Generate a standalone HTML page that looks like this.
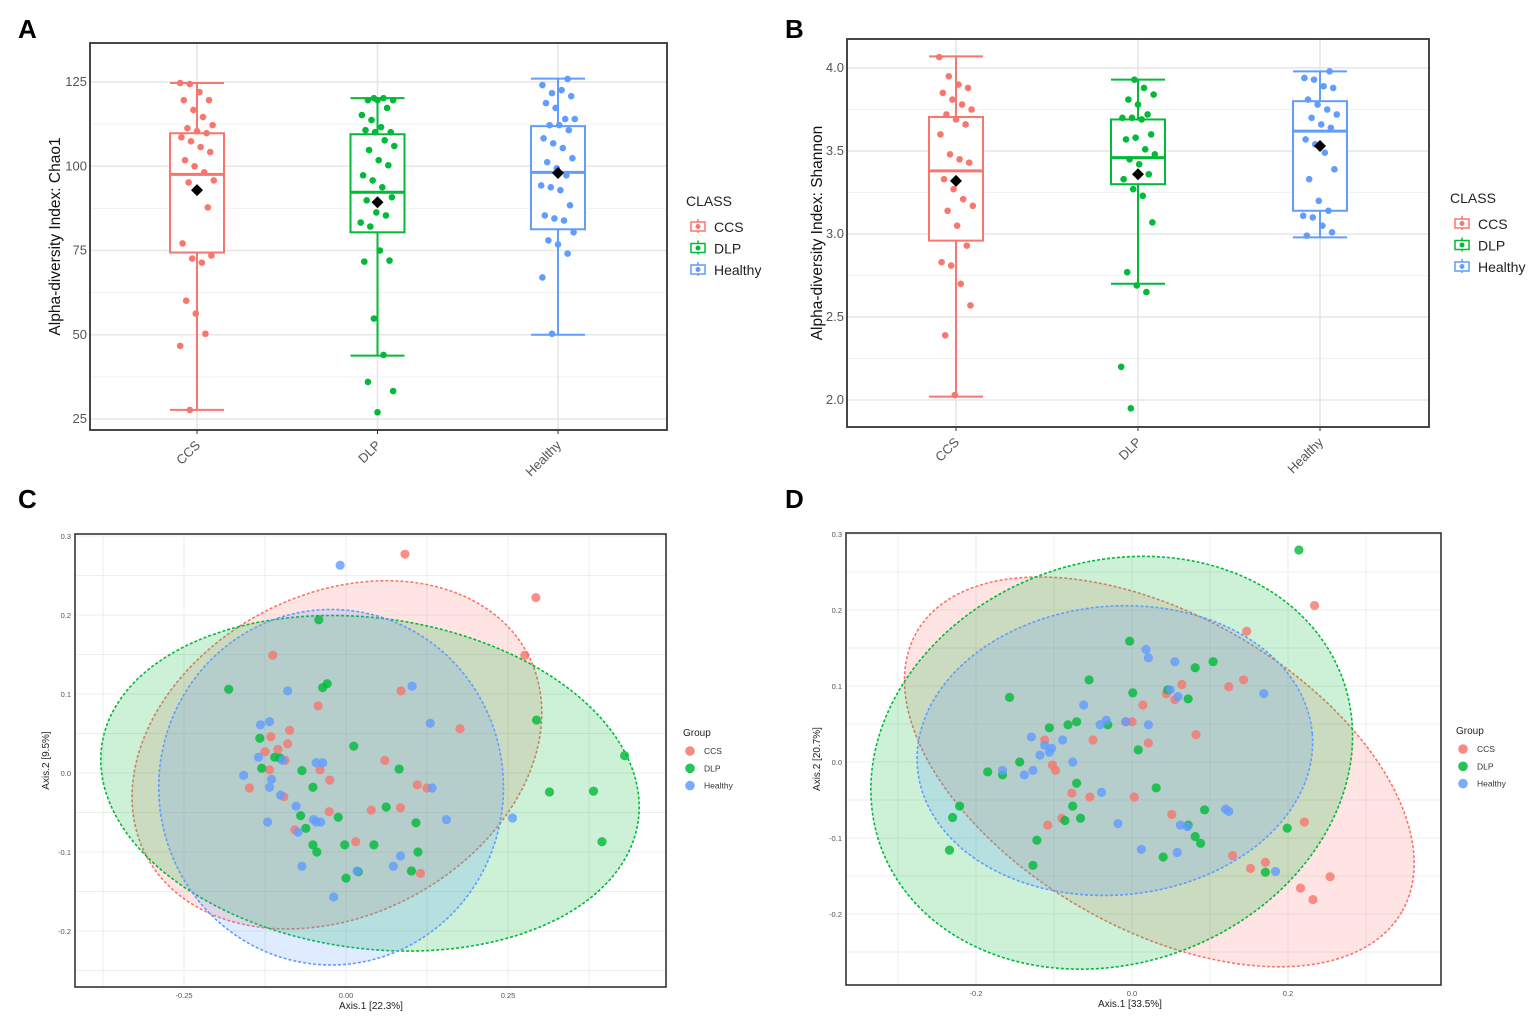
<!DOCTYPE html>
<html><head><meta charset="utf-8">
<style>
html,body{margin:0;padding:0;background:#fff;}
svg{display:block;font-family:"Liberation Sans",sans-serif;}
</style></head>
<body>
<svg id="fig" width="1535" height="1023" viewBox="0 0 1535 1023" xmlns="http://www.w3.org/2000/svg">
<rect width="1535" height="1023" fill="#fff"/>
<text x="18" y="38" font-size="26" font-weight="bold">A</text>
<text x="785" y="38" font-size="26" font-weight="bold">B</text>
<text x="18" y="508" font-size="26" font-weight="bold">C</text>
<text x="785" y="508" font-size="26" font-weight="bold">D</text>
</svg>
<script>
// ===== Panel A data (Chao1) =====
const groupsA = ["CCS","DLP","Healthy"];
const yTicksA = [25,50,75,100,125];
const boxStatsA = [ // [lowWhisker, q1, median, q3, highWhisker, mean]
  [27.7,74.4,97.6,109.8,124.7,92.9],
  [43.8,80.4,92.3,109.5,120.2,89.3],
  [50.0,81.3,98.2,111.9,126.0,98.0]
];
const ptsA_CCS = [124.7,124.4,122,119.6,119.6,116.7,114.6,112.2,111.3,110.4,109.8,108.6,107.4,105.7,104.2,101.8,100,98.2,95.8,95.2,92.9,87.8,77.1,72.6,71.4,73.5,60.1,56.3,50.3,46.7,27.7];
const ptsA_DLP = [120.2,120.2,119.6,119.6,119.6,117.3,115.2,113.7,111.6,110.1,110.7,110.1,107.7,106,104.8,101.8,100.3,97.3,95.8,93.75,90.8,89.9,86.3,85.4,83.3,82.1,75,72,71.7,54.8,44,33.3,36,27];
const ptsA_H = [125.9,124.1,121.7,122.6,120.8,118.75,117.3,114,114,112.2,112.2,110.7,108.3,106.8,105.4,102.4,101.2,99.4,97.3,94.3,93.75,92.9,88.4,85.4,84.5,83.9,80.4,78,76.8,74.1,67,50.3];

// ===== Panel B data (Shannon) =====
const groupsB = ["CCS","DLP","Healthy"];
const yTicksB = [2.0,2.5,3.0,3.5,4.0];
const boxStatsB = [
  [2.02,2.96,3.38,3.705,4.07,3.32],
  [2.70,3.30,3.46,3.69,3.93,3.36],
  [2.98,3.14,3.62,3.80,3.98,3.53]
];
const ptsB_CCS = [4.066,3.95,3.90,3.88,3.85,3.81,3.78,3.75,3.72,3.69,3.66,3.60,3.48,3.45,3.43,3.33,3.27,3.21,3.17,3.14,3.05,2.93,2.83,2.81,2.70,2.57,2.39,2.03];
const ptsB_DLP = [3.93,3.88,3.84,3.81,3.78,3.72,3.70,3.70,3.69,3.60,3.57,3.58,3.51,3.48,3.45,3.42,3.36,3.33,3.27,3.23,3.07,2.77,2.69,2.65,2.20,1.95];
const ptsB_H = [3.98,3.94,3.93,3.89,3.88,3.81,3.78,3.75,3.72,3.70,3.66,3.64,3.57,3.54,3.49,3.39,3.33,3.20,3.14,3.11,3.10,3.05,3.01,2.99];

// ===== Panel C data (PCoA) =====
const xTicksC = [-0.25,0,0.25];
const yTicksC = [-0.2,-0.1,0,0.1,0.2,0.3];
const cRedX = [0.091,0.293,0.276,-0.113,0.085,-0.043,0.176,-0.087,-0.116,-0.09,-0.125,-0.105,-0.040,0.060,-0.025,0.110,0.125,-0.149,-0.096,0.039,0.084,-0.026,-0.079,0.015,0.115,-0.094,-0.118];
const cRedY = [0.277,0.222,0.149,0.149,0.104,0.085,0.056,0.054,0.046,0.037,0.027,0.030,0.004,0.016,-0.009,-0.015,-0.019,-0.019,-0.030,-0.047,-0.044,-0.049,-0.072,-0.087,-0.127,0.016,0.004];
const cGrnX = [-0.042,-0.181,-0.029,-0.036,0.294,0.012,-0.133,-0.110,-0.068,0.082,0.430,0.314,0.382,-0.130,-0.051,-0.070,-0.062,-0.012,0.062,0.108,0.395,-0.051,-0.045,-0.002,0.043,0.111,0.019,0.000,0.101,-0.102];
const cGrnY = [0.194,0.106,0.113,0.108,0.067,0.034,0.044,0.020,0.003,0.005,0.022,-0.024,-0.023,0.006,-0.018,-0.054,-0.070,-0.056,-0.043,-0.063,-0.087,-0.091,-0.100,-0.091,-0.091,-0.100,-0.125,-0.133,-0.124,0.019];
const cBluX = [-0.009,-0.090,0.102,-0.118,-0.132,0.130,-0.135,-0.098,-0.046,-0.036,-0.158,-0.118,-0.101,-0.121,-0.077,-0.050,-0.039,-0.074,-0.046,0.155,0.133,0.257,0.084,0.073,-0.068,0.017,-0.019,-0.115];
const cBluY = [0.263,0.104,0.110,0.065,0.061,0.063,0.020,0.016,0.013,0.013,-0.003,-0.018,-0.028,-0.062,-0.042,-0.059,-0.062,-0.075,-0.062,-0.059,-0.019,-0.057,-0.105,-0.118,-0.118,-0.124,-0.157,-0.008];
// ellipse: [cx, cy, semi-axis x, semi-axis y, rotation deg]
const cEllipses = [[-0.014,0.023,0.333,0.203,-28],[0.037,-0.013,0.418,0.209,8],[-0.023,-0.018,0.266,0.225,0]];

// ===== Panel D data (PCoA) =====
const xTicksD = [-0.2,0,0.2];
const yTicksD = [-0.2,-0.1,0,0.1,0.2,0.3];
const dRedX = [0.234,0.147,0.143,0.124,0.064,0.044,0.055,0.014,0.082,-0.008,0.000,-0.050,-0.112,-0.102,-0.098,-0.077,-0.054,0.003,-0.090,-0.108,0.051,0.129,0.171,0.152,0.221,0.216,0.232,0.254,0.021];
const dRedY = [0.206,0.172,0.108,0.099,0.102,0.090,0.082,0.075,0.036,0.053,0.053,0.029,0.029,-0.004,-0.011,-0.041,-0.046,-0.046,-0.074,-0.083,-0.069,-0.123,-0.132,-0.140,-0.079,-0.166,-0.181,-0.151,0.025];
const dGrnX = [0.214,-0.003,0.104,0.081,-0.055,0.072,0.001,-0.157,-0.071,-0.082,-0.031,0.008,-0.144,-0.185,-0.166,-0.071,0.031,-0.076,-0.066,0.093,-0.086,-0.221,-0.230,0.072,0.081,0.088,0.199,-0.122,0.040,-0.127,-0.234,0.171,-0.106,0.046];
const dGrnY = [0.279,0.159,0.132,0.124,0.108,0.083,0.091,0.085,0.053,0.049,0.049,0.016,0.000,-0.013,-0.017,-0.028,-0.034,-0.058,-0.074,-0.063,-0.077,-0.058,-0.073,-0.083,-0.098,-0.107,-0.087,-0.103,-0.125,-0.136,-0.116,-0.145,0.045,0.095];
const dBluX = [0.018,0.021,0.055,0.049,0.059,0.169,-0.062,-0.033,-0.041,0.021,-0.008,-0.129,-0.112,-0.103,-0.089,-0.118,-0.106,-0.076,-0.127,-0.166,-0.138,-0.039,-0.018,0.062,0.071,0.120,0.124,0.012,0.058,0.184];
const dBluY = [0.148,0.137,0.132,0.095,0.086,0.090,0.075,0.055,0.049,0.049,0.053,0.033,0.022,0.018,0.029,0.009,0.013,0.000,-0.011,-0.011,-0.017,-0.040,-0.081,-0.083,-0.085,-0.062,-0.065,-0.115,-0.119,-0.144];
const dEllipses = [[0.035,-0.013,0.359,0.206,30],[-0.026,-0.001,0.315,0.264,-20],[-0.022,0.015,0.254,0.190,-5]];

const COLS = ["#F8766D","#00BA38","#619CFF"];
const NS = "http://www.w3.org/2000/svg";
const svg = document.getElementById('fig');
function mk(tag, attrs, parent){
  const e = document.createElementNS(NS, tag);
  for (const k in attrs) e.setAttribute(k, attrs[k]);
  (parent||svg).appendChild(e);
  return e;
}
function lin(d0,d1,r0,r1){ return v => r0 + (v-d0)/(d1-d0)*(r1-r0); }

// ---------- box plot panels ----------
function boxPanel(cfg, groups, ticks, stats, pts, name){
  const g = mk('g', {});
  
  
  const y = lin(cfg.t0, cfg.t1, cfg.py0, cfg.py1);
  const x = i => cfg.cx0 + i*cfg.cdx;
  mk('rect',{x:cfg.L,y:cfg.T,width:cfg.R-cfg.L,height:cfg.B-cfg.T,fill:'#fff'},g);
  const step = ticks[1]-ticks[0];
  for (let i=0;i<ticks.length;i++){
    const v = ticks[i];
    const gl = mk('line',{x1:cfg.L,x2:cfg.R,y1:y(v),y2:y(v),stroke:'#e6e6e6','stroke-width':1.6},g);
    
    
    const vm = v + step/2;
    const ym = y(vm);
    if (ym > cfg.T) mk('line',{x1:cfg.L,x2:cfg.R,y1:ym,y2:ym,stroke:'#f1f1f1','stroke-width':1},g);
    const t = mk('text',{x:cfg.L-3,y:y(v)+4,'text-anchor':'end','font-size':13,fill:'#555'},g);
    t.textContent = cfg.fmt(v);
    
    
  }
  {
    const vm = ticks[0]-step/2; const ym=y(vm);
    if (ym < cfg.B) mk('line',{x1:cfg.L,x2:cfg.R,y1:ym,y2:ym,stroke:'#f1f1f1','stroke-width':1},g);
  }
  groups.forEach((gname,i)=>{
    mk('line',{x1:x(i),x2:x(i),y1:cfg.T,y2:cfg.B,stroke:'#e6e6e6','stroke-width':1.6},g);
  });
  groups.forEach((gname,i)=>{
    const s = stats[i], c = COLS[i], cx = x(i), w = 27;
    const bg = mk('g',{},g);
    
    
    mk('line',{x1:cx,x2:cx,y1:y(s[0]),y2:y(s[4]),stroke:c,'stroke-width':2},bg);
    mk('line',{x1:cx-w,x2:cx+w,y1:y(s[0]),y2:y(s[0]),stroke:c,'stroke-width':2},bg);
    mk('line',{x1:cx-w,x2:cx+w,y1:y(s[4]),y2:y(s[4]),stroke:c,'stroke-width':2},bg);
    mk('rect',{x:cx-w,y:y(s[3]),width:2*w,height:y(s[1])-y(s[3]),fill:'#fff',stroke:c,'stroke-width':2},bg);
    mk('line',{x1:cx-w,x2:cx+w,y1:y(s[2]),y2:y(s[2]),stroke:c,'stroke-width':3},bg);
    pts[i].forEach((v,j)=>{
      const jit = (((j*37+i*11)%29)-14)*1.2;
      const p = mk('circle',{cx:cx+jit,cy:y(v),r:3.3,fill:c},bg);
      
      
    });
    const m = y(s[5]);
    const mm = mk('path',{d:`M${cx} ${m-6}L${cx+6} ${m}L${cx} ${m+6}L${cx-6} ${m}Z`,fill:'#000'},bg);
    
    
    const tl = mk('text',{x:cx+4,y:cfg.B+16,'text-anchor':'end','font-size':13,fill:'#555',transform:`rotate(-45 ${cx+4} ${cfg.B+16})`},g);
    tl.textContent = gname;
    
    
    mk('line',{x1:cx,x2:cx,y1:cfg.B,y2:cfg.B+4,stroke:'#333'},g);
  });
  mk('rect',{x:cfg.L,y:cfg.T,width:cfg.R-cfg.L,height:cfg.B-cfg.T,fill:'none',stroke:'#333','stroke-width':1.8},g);
  const yt = mk('text',{x:cfg.ytx,y:(cfg.T+cfg.B)/2,'text-anchor':'middle','font-size':15.5,fill:'#111',transform:`rotate(-90 ${cfg.ytx} ${(cfg.T+cfg.B)/2})`},g);
  yt.textContent = cfg.ytitle;
  
  
  // legend
  const lg = mk('g',{},g);
  
  
  const lt = mk('text',{x:cfg.lx,y:cfg.ly,'font-size':14,fill:'#222'},lg);
  lt.textContent = 'CLASS';
  groups.forEach((gname,i)=>{
    const yy = cfg.ly + 23 + i*21.5;
    const e = mk('g',{},lg);
    
    
    mk('line',{x1:cfg.lx+12,x2:cfg.lx+12,y1:yy-10,y2:yy+4,stroke:COLS[i],'stroke-width':1.5},e);
    mk('rect',{x:cfg.lx+5,y:yy-7,width:14,height:9,fill:'#fff',stroke:COLS[i],'stroke-width':1.5},e);
    mk('circle',{cx:cfg.lx+12,cy:yy-2.5,r:2.5,fill:COLS[i]},e);
    const et = mk('text',{x:cfg.lx+28,y:yy+3,'font-size':14,fill:'#222'},e);
    et.textContent = gname;
  });
}
boxPanel({L:90,R:667,T:43,B:430,t0:125,t1:25,py0:82,py1:419,cx0:197,cdx:180.5,
  fmt:v=>String(v),ytx:60,ytitle:'Alpha-diversity Index: Chao1',lx:686,ly:206},
  groupsA,yTicksA,boxStatsA,[ptsA_CCS,ptsA_DLP,ptsA_H],'panel-a-chao1');
boxPanel({L:847,R:1429,T:39,B:427,t0:4.0,t1:2.0,py0:68,py1:400,cx0:956,cdx:182,
  fmt:v=>v.toFixed(1),ytx:822,ytitle:'Alpha-diversity Index: Shannon',lx:1450,ly:203},
  groupsB,yTicksB,boxStatsB,[ptsB_CCS,ptsB_DLP,ptsB_H],'panel-b-shannon');

// ---------- PCoA panels ----------
function pcoaPanel(cfg, xt, yt, ells, series, name){
  const g = mk('g',{});
  
  
  const x = lin(cfg.xd0,cfg.xd1,cfg.xp0,cfg.xp1);
  const y = lin(cfg.yd0,cfg.yd1,cfg.yp0,cfg.yp1);
  const ux = Math.abs(x(1)-x(0)), uy = Math.abs(y(1)-y(0));
  const clip = mk('clipPath',{id:name+'-clip'},g);
  mk('rect',{x:cfg.L,y:cfg.T,width:cfg.R-cfg.L,height:cfg.B-cfg.T},clip);
  const xs = xt[1]-xt[0], ys = yt[1]-yt[0];
  for (let v=xt[0]-xs*2; v<=xt[xt.length-1]+xs*2+1e-9; v+=xs/2){
    const px=x(v); if(px<=cfg.L||px>=cfg.R) continue;
    mk('line',{x1:px,x2:px,y1:cfg.T,y2:cfg.B,stroke:'#ececec','stroke-width':1},g);
  }
  for (let v=yt[0]-ys*2; v<=yt[yt.length-1]+ys*2+1e-9; v+=ys/2){
    const py=y(v); if(py<=cfg.T||py>=cfg.B) continue;
    mk('line',{x1:cfg.L,x2:cfg.R,y1:py,y2:py,stroke:'#ececec','stroke-width':1},g);
  }
  xt.forEach(v=>{
    const t = mk('text',{x:x(v),y:cfg.B+11,'text-anchor':'middle','font-size':7.5,fill:'#555'},g);
    t.textContent = Math.abs(v)<1e-9 ? cfg.zero : v.toFixed(cfg.xdec);
    
    
  });
  yt.forEach(v=>{
    const t = mk('text',{x:cfg.L-4,y:y(v)+3,'text-anchor':'end','font-size':7.5,fill:'#555'},g);
    t.textContent = Math.abs(v)<1e-9?'0.0':v.toFixed(1);
    
    
  });
  const cg = mk('g',{'clip-path':`url(#${name}-clip)`},g);
  ells.forEach((e,i)=>{
    const el = mk('ellipse',{cx:x(e[0]),cy:y(e[1]),rx:e[2]*ux,ry:e[3]*uy,
      transform:`rotate(${e[4]} ${x(e[0])} ${y(e[1])})`,fill:COLS[i],'fill-opacity':0.2,
      stroke:COLS[i],'stroke-width':1.6,'stroke-dasharray':'3 2'},cg);
    
    
  });
  series.forEach((s,i)=>{
    s[0].forEach((vx,j)=>{
      const p = mk('circle',{cx:x(vx),cy:y(s[1][j]),r:4.6,fill:COLS[i],'fill-opacity':0.8},cg);
      
      
    });
  });
  mk('rect',{x:cfg.L,y:cfg.T,width:cfg.R-cfg.L,height:cfg.B-cfg.T,fill:'none',stroke:'#333','stroke-width':1.6},g);
  const xa = mk('text',{x:cfg.xtx,y:cfg.B+22,'text-anchor':'middle','font-size':10,fill:'#222'},g);
  xa.textContent = cfg.xtitle;
  
  
  const ym = (cfg.T+cfg.B)/2;
  const ya = mk('text',{x:cfg.L-26,y:ym,'text-anchor':'middle','font-size':10,fill:'#222',transform:`rotate(-90 ${cfg.L-26} ${ym})`},g);
  ya.textContent = cfg.ytitle;
  
  
  const lg = mk('g',{},g);
  
  
  const lt = mk('text',{x:cfg.lx,y:cfg.ly,'font-size':10,fill:'#222'},lg);
  lt.textContent='Group';
  ['CCS','DLP','Healthy'].forEach((n,i)=>{
    const yy = cfg.ly+18+i*17.3;
    const e = mk('g',{},lg);
    
    
    mk('circle',{cx:cfg.lx+7,cy:yy-3,r:4.8,fill:COLS[i],'fill-opacity':0.85},e);
    const t = mk('text',{x:cfg.lx+21,y:yy,'font-size':8.5,fill:'#333'},e);
    t.textContent=n;
  });
}
pcoaPanel({L:75,R:666,T:534,B:987,xd0:0,xd1:0.25,xp0:346,xp1:508,yd0:0,yd1:0.1,yp0:773,yp1:694,xdec:2,zero:'0.00',xtx:371,
  xtitle:'Axis.1   [22.3%]',ytitle:'Axis.2   [9.5%]',lx:683,ly:736},
  xTicksC,yTicksC,cEllipses,[[cRedX,cRedY],[cGrnX,cGrnY],[cBluX,cBluY]],'panel-c-pcoa');
pcoaPanel({L:846,R:1441,T:533,B:985,xd0:0,xd1:0.2,xp0:1132,xp1:1288,yd0:0,yd1:0.1,yp0:762,yp1:686,xdec:1,zero:'0.0',xtx:1130,
  xtitle:'Axis.1   [33.5%]',ytitle:'Axis.2   [20.7%]',lx:1456,ly:734},
  xTicksD,yTicksD,dEllipses,[[dRedX,dRedY],[dGrnX,dGrnY],[dBluX,dBluY]],'panel-d-pcoa');
</script>
</body></html>
